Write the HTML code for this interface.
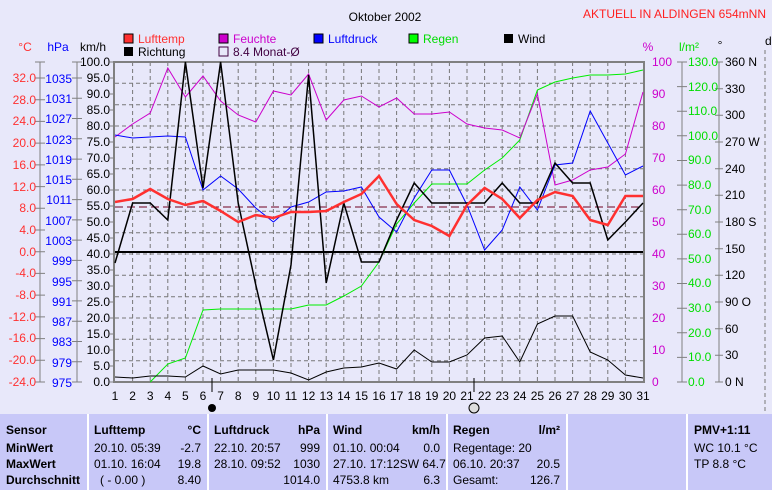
<!DOCTYPE html>
<html><head><meta charset="utf-8"><style>
body{margin:0;background:#e8e8fa;width:772px;height:490px;overflow:hidden;font-family:"Liberation Sans",sans-serif}
svg{position:absolute;left:0;top:0}
text{font-family:"Liberation Sans",sans-serif;font-size:12px}
</style></head><body>
<svg width="772" height="490" viewBox="0 0 772 490">
<rect width="772" height="490" fill="#e8e8fa"/>
<text x="385" y="21" font-size="15" text-anchor="middle" fill="#000">Oktober 2002</text>
<text x="766" y="18" font-size="10" text-anchor="end" fill="#ff2020">AKTUELL IN ALDINGEN 654mNN</text>
<g font-size="11">
<rect x="124" y="34" width="9" height="9" fill="#ff3030" stroke="#000"/><text x="138" y="43" fill="#ff3030">Lufttemp</text>
<rect x="124" y="47" width="9" height="9" fill="#000"/><text x="138" y="56" fill="#000">Richtung</text>
<rect x="219" y="34" width="9" height="9" fill="#cc00cc" stroke="#000"/><text x="233" y="43" fill="#cc00cc">Feuchte</text>
<rect x="219" y="47" width="9" height="9" fill="none" stroke="#400040"/><text x="233" y="56" fill="#400040">8.4 Monat-Ø</text>
<rect x="314" y="34" width="9" height="9" fill="#0000ff" stroke="#000"/><text x="328" y="43" fill="#0000ff">Luftdruck</text>
<rect x="409" y="34" width="9" height="9" fill="#00ff00" stroke="#000"/><text x="423" y="43" fill="#00dd00">Regen</text>
<rect x="504" y="34" width="9" height="9" fill="#000"/><text x="518" y="43" fill="#000">Wind</text>
</g>
<text x="25" y="51" fill="#ff3030" text-anchor="middle">°C</text>
<text x="58" y="51" fill="#0000ff" text-anchor="middle">hPa</text>
<text x="93" y="51" fill="#000" text-anchor="middle">km/h</text>
<text x="648" y="51" fill="#cc00cc" text-anchor="middle">%</text>
<text x="689" y="51" fill="#00dd00" text-anchor="middle">l/m²</text>
<text x="720" y="49" fill="#000" text-anchor="middle">°</text>
<text x="765" y="45" fill="#000">d</text>
<g stroke="#777" stroke-dasharray="4,3" stroke-width="1">
<path d="M115 83.3H643M115 104.7H643M115 126H643M115 147.3H643M115 168.7H643M115 190H643M115 211.3H643M115 232.7H643M115 254H643M115 275.3H643M115 296.7H643M115 318H643M115 339.3H643M115 360.7H643"/>
<path d="M132.6 62V382M150.2 62V382M167.8 62V382M185.4 62V382M203 62V382M220.6 62V382M238.2 62V382M255.8 62V382M273.4 62V382M291 62V382M308.6 62V382M326.2 62V382M343.8 62V382M361.4 62V382M379 62V382M396.6 62V382M414.2 62V382M431.8 62V382M449.4 62V382M467 62V382M484.6 62V382M502.2 62V382M519.8 62V382M537.4 62V382M555 62V382M572.6 62V382M590.2 62V382M607.8 62V382M625.4 62V382"/>
<path d="M765 50V490"/>
</g>
<rect x="114" y="62" width="530" height="320" fill="none" stroke="#808080" stroke-width="2"/>
<g stroke="#808080" fill="none">
<path d="M40 62V382M77 62V382M682 62V382M719 62V382"/>
<path d="M35 62H45M35 78H45M35 99.7H45M35 121.4H45M35 143.1H45M35 164.9H45M35 186.6H45M35 208.3H45M35 230H45M35 251.7H45M35 273.4H45M35 295.1H45M35 316.9H45M35 338.6H45M35 360.3H45M35 382H45"/>
<path d="M72 62H82M72 78H82M72 98.3H82M72 118.5H82M72 138.8H82M72 159.1H82M72 179.3H82M72 199.6H82M72 219.9H82M72 240.1H82M72 260.4H82M72 280.7H82M72 300.9H82M72 321.2H82M72 341.5H82M72 361.7H82M72 382H82"/>
<path d="M110 62H114M110 78H114M110 94H114M110 110H114M110 126H114M110 142H114M110 158H114M110 174H114M110 190H114M110 206H114M110 222H114M110 238H114M110 254H114M110 270H114M110 286H114M110 302H114M110 318H114M110 334H114M110 350H114M110 366H114M110 382H114"/>
<path d="M677 62H687M677 86.6H687M677 111.2H687M677 135.8H687M677 160.5H687M677 185.1H687M677 209.7H687M677 234.3H687M677 258.9H687M677 283.5H687M677 308.2H687M677 332.8H687M677 357.4H687M677 382H687"/>
<path d="M715 62H723M715 88.7H723M715 115.3H723M715 142H723M715 168.7H723M715 195.3H723M715 222H723M715 248.7H723M715 275.3H723M715 302H723M715 328.7H723M715 355.3H723M715 382H723"/>
</g>
<g fill="#ff3030" text-anchor="end">
<text x="36" y="82">32.0</text><text x="36" y="104">28.0</text><text x="36" y="125">24.0</text><text x="36" y="147">20.0</text><text x="36" y="169">16.0</text><text x="36" y="191">12.0</text><text x="36" y="212">8.0</text><text x="36" y="234">4.0</text><text x="36" y="256">0.0</text><text x="36" y="277">-4.0</text><text x="36" y="299">-8.0</text><text x="36" y="321">-12.0</text><text x="36" y="342">-16.0</text><text x="36" y="364">-20.0</text><text x="36" y="386">-24.0</text>
</g>
<g fill="#0000ff" text-anchor="end">
<text x="72" y="83">1035</text><text x="72" y="103">1031</text><text x="72" y="123">1027</text><text x="72" y="144">1023</text><text x="72" y="164">1019</text><text x="72" y="184">1015</text><text x="72" y="204">1011</text><text x="72" y="225">1007</text><text x="72" y="245">1003</text><text x="72" y="265">999</text><text x="72" y="286">995</text><text x="72" y="306">991</text><text x="72" y="326">987</text><text x="72" y="346">983</text><text x="72" y="367">979</text><text x="72" y="387">975</text>
</g>
<g fill="#000" text-anchor="end">
<text x="110" y="66">100.0</text><text x="110" y="82">95.0</text><text x="110" y="98">90.0</text><text x="110" y="114">85.0</text><text x="110" y="130">80.0</text><text x="110" y="146">75.0</text><text x="110" y="162">70.0</text><text x="110" y="178">65.0</text><text x="110" y="194">60.0</text><text x="110" y="210">55.0</text><text x="110" y="226">50.0</text><text x="110" y="242">45.0</text><text x="110" y="258">40.0</text><text x="110" y="274">35.0</text><text x="110" y="290">30.0</text><text x="110" y="306">25.0</text><text x="110" y="322">20.0</text><text x="110" y="338">15.0</text><text x="110" y="354">10.0</text><text x="110" y="370">5.0</text><text x="110" y="386">0.0</text>
</g>
<g fill="#cc00cc">
<text x="652" y="66">100</text><text x="652" y="98">90</text><text x="652" y="130">80</text><text x="652" y="162">70</text><text x="652" y="194">60</text><text x="652" y="226">50</text><text x="652" y="258">40</text><text x="652" y="290">30</text><text x="652" y="322">20</text><text x="652" y="354">10</text><text x="652" y="386">0</text>
</g>
<g fill="#00dd00">
<text x="688" y="66">130.0</text><text x="688" y="91">120.0</text><text x="688" y="115">110.0</text><text x="688" y="140">100.0</text><text x="688" y="164">90.0</text><text x="688" y="189">80.0</text><text x="688" y="214">70.0</text><text x="688" y="238">60.0</text><text x="688" y="263">50.0</text><text x="688" y="287">40.0</text><text x="688" y="312">30.0</text><text x="688" y="337">20.0</text><text x="688" y="361">10.0</text><text x="688" y="386">0.0</text>
</g>
<g fill="#000">
<text x="725" y="66">360 N</text><text x="725" y="93">330</text><text x="725" y="119">300</text><text x="725" y="146">270 W</text><text x="725" y="173">240</text><text x="725" y="199">210</text><text x="725" y="226">180 S</text><text x="725" y="253">150</text><text x="725" y="279">120</text><text x="725" y="306">90  O</text><text x="725" y="333">60</text><text x="725" y="359">30</text><text x="725" y="386">0  N</text>
</g>
<g fill="#000" text-anchor="middle">
<text x="115" y="400">1</text><text x="132.6" y="400">2</text><text x="150.2" y="400">3</text><text x="167.8" y="400">4</text><text x="185.4" y="400">5</text><text x="203" y="400">6</text><text x="220.6" y="400">7</text><text x="238.2" y="400">8</text><text x="255.8" y="400">9</text><text x="273.4" y="400">10</text><text x="291" y="400">11</text><text x="308.6" y="400">12</text><text x="326.2" y="400">13</text><text x="343.8" y="400">14</text><text x="361.4" y="400">15</text><text x="379" y="400">16</text><text x="396.6" y="400">17</text><text x="414.2" y="400">18</text><text x="431.8" y="400">19</text><text x="449.4" y="400">20</text><text x="467" y="400">21</text><text x="484.6" y="400">22</text><text x="502.2" y="400">23</text><text x="519.8" y="400">24</text><text x="537.4" y="400">25</text><text x="555" y="400">26</text><text x="572.6" y="400">27</text><text x="590.2" y="400">28</text><text x="607.8" y="400">29</text><text x="625.4" y="400">30</text><text x="643" y="400">31</text>
</g>
<path d="M212 378V392M474 378V392" stroke="#000"/>
<circle cx="212" cy="408" r="4" fill="#000"/>
<circle cx="474" cy="408" r="5" fill="#ddd" stroke="#000"/>
<line x1="115" y1="252" x2="643" y2="252" stroke="#000" stroke-width="2"/>
<line x1="115" y1="207" x2="643" y2="207" stroke="#700020" stroke-dasharray="8,4"/>
<polyline fill="none" stroke="#00ee00" points="150.2,382 167.8,364 185.4,358 203,310 220.6,309 238.2,309 255.8,309 273.4,309 291,309 308.6,305 326.2,305 343.8,296 361.4,286 379,262 396.6,224 414.2,203 431.8,184 449.4,184 467,184 484.6,170 502.2,158 519.8,140 537.4,90 555,82 572.6,78 590.2,75 607.8,75 625.4,74 643,70"/>
<polyline fill="none" stroke="#cc00cc" points="115,137 132.6,124 150.2,113 167.8,68 185.4,97 203,76 220.6,101 238.2,115 255.8,122 273.4,91 291,95 308.6,74 326.2,120 343.8,100 361.4,96 379,107 396.6,98 414.2,114 431.8,114 449.4,112 467,124 484.6,128 502.2,130 519.8,138 537.4,94 555,185 572.6,180 590.2,170 607.8,167 625.4,154 643,92"/>
<polyline fill="none" stroke="#0000ff" points="115,135 132.6,138 150.2,137 167.8,136 185.4,137 203,190 220.6,176 238.2,189 255.8,208 273.4,222 291,207 308.6,202 326.2,192 343.8,191 361.4,187 379,217 396.6,232 414.2,198 431.8,170 449.4,170 467,205 484.6,250 502.2,230 519.8,187 537.4,210 555,165 572.6,163 590.2,111 607.8,143 625.4,175 643,166"/>
<polyline fill="none" stroke="#000" stroke-width="1.5" points="115,263 132.6,203 150.2,203 167.8,220 185.4,62 203,188 220.6,62 238.2,203 255.8,285 273.4,360 291,265 308.6,75 326.2,283 343.8,203 361.4,262 379,262 396.6,220 414.2,183 431.8,203 449.4,203 467,203 484.6,203 502.2,183 519.8,203 537.4,203 555,163 572.6,183 590.2,183 607.8,240 625.4,222 643,203"/>
<polyline fill="none" stroke="#000" points="115,377 132.6,378 150.2,376 167.8,376 185.4,377 203,366 220.6,374 238.2,370 255.8,370 273.4,370 291,373 308.6,380 326.2,372 343.8,368 361.4,367 379,363 396.6,369 414.2,350 431.8,362 449.4,362 467,355 484.6,338 502.2,336 519.8,362 537.4,324 555,316 572.6,316 590.2,352 607.8,360 625.4,375 643,378"/>
<polyline fill="none" stroke="#ff3030" stroke-width="2.5" points="115,202 132.6,199 150.2,189 167.8,199 185.4,205 203,201 220.6,211 238.2,222 255.8,215 273.4,218 291,212 308.6,212 326.2,211 343.8,202 361.4,194 379,176 396.6,204 414.2,220 431.8,226 449.4,236 467,205 484.6,188 502.2,199 519.8,218 537.4,200 555,192 572.6,196 590.2,220 607.8,225 625.4,196 643,196"/>
<rect x="0" y="414" width="772" height="76" fill="#c8c8f8"/>
<g stroke="#fff" stroke-width="2"><path d="M88 414V490M208 414V490M327 414V490M447 414V490M567 414V490M687 414V490"/></g>
<g font-size="12" fill="#000">
<g font-weight="bold"><text x="6" y="434">Sensor</text><text x="6" y="452">MinWert</text><text x="6" y="468">MaxWert</text><text x="6" y="484">Durchschnitt</text>
<text x="94" y="434">Lufttemp</text><text x="201" y="434" text-anchor="end">°C</text>
<text x="214" y="434">Luftdruck</text><text x="320" y="434" text-anchor="end">hPa</text>
<text x="333" y="434">Wind</text><text x="440" y="434" text-anchor="end">km/h</text>
<text x="453" y="434">Regen</text><text x="560" y="434" text-anchor="end">l/m²</text>
<text x="694" y="434">PMV+1:11</text></g>
<text x="94" y="452">20.10.  05:39</text><text x="201" y="452" text-anchor="end">-2.7</text>
<text x="94" y="468">01.10.  16:04</text><text x="201" y="468" text-anchor="end">19.8</text>
<text x="100" y="484">( - 0.00 )</text><text x="201" y="484" text-anchor="end">8.40</text>
<text x="214" y="452">22.10.  20:57</text><text x="320" y="452" text-anchor="end">999</text>
<text x="214" y="468">28.10.  09:52</text><text x="320" y="468" text-anchor="end">1030</text>
<text x="320" y="484" text-anchor="end">1014.0</text>
<text x="333" y="452">01.10.  00:04</text><text x="440" y="452" text-anchor="end">0.0</text>
<text x="333" y="468">27.10.  17:12SW 64.7</text>
<text x="333" y="484">4753.8 km</text><text x="440" y="484" text-anchor="end">6.3</text>
<text x="453" y="452">Regentage: 20</text>
<text x="453" y="468">06.10.  20:37</text><text x="560" y="468" text-anchor="end">20.5</text>
<text x="453" y="484">Gesamt:</text><text x="560" y="484" text-anchor="end">126.7</text>
<text x="694" y="452">WC 10.1 °C</text><text x="694" y="468">TP 8.8 °C</text>
</g>
</svg>
</body></html>
